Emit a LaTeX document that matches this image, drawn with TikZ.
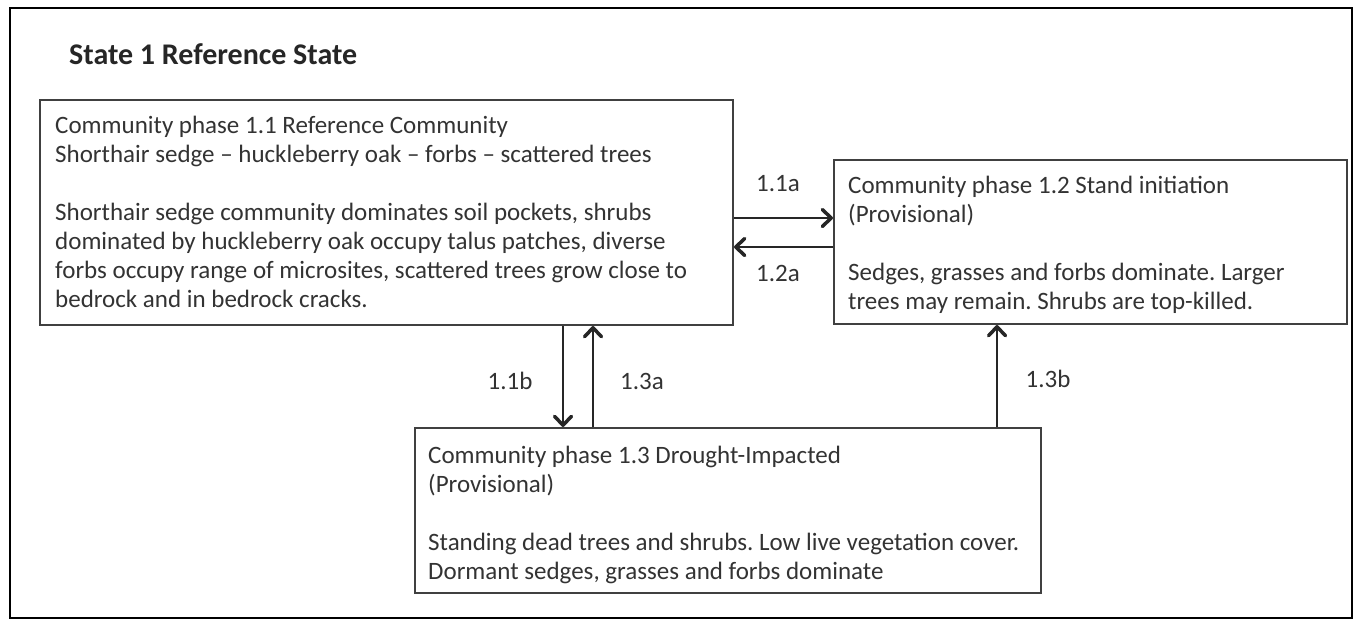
\documentclass[tikz,border=0pt]{standalone}
\usepackage{fontspec}
\setmainfont{Carlito}
\usetikzlibrary{arrows.meta}
\definecolor{txtc}{HTML}{333333}
\definecolor{boxc}{HTML}{404040}
\definecolor{arrc}{HTML}{262626}
\frenchspacing
\begin{document}
\begin{tikzpicture}[x=1pt,y=-1pt,
  box/.style={draw=boxc, line width=2pt, rectangle, inner sep=0pt, anchor=north west},
  txt/.style={text=txtc, inner sep=0pt, anchor=north west, align=left,
    font=\fontsize{25}{29}\selectfont},
  lbl/.style={text=txtc, inner sep=0pt, font=\fontsize{25}{29}\selectfont},
  arr/.style={draw=arrc, line width=2.5pt, -{Straight Barb[length=9pt,width=17pt,line width=3.5pt,round]}}]
\useasboundingbox (0,0) rectangle (1356,619);
\fill[white] (0,0) rectangle (1356,619);
\draw[black, line width=2.5pt] (10,8) rectangle (1352,618);
\node[text=black!85, inner sep=0pt, anchor=west, font=\fontsize{30}{34}\selectfont\bfseries] (title) at (69,54) {State 1 Reference State};
% boxes
\node[box, minimum width=693, minimum height=225] (p11) at (39,99) {};
\node[box, minimum width=513, minimum height=164] (p12) at (833,159) {};
\node[box, minimum width=626, minimum height=165] (p13) at (414,427) {};
% texts
\node[txt] (t11) at ([xshift=16pt,yshift=-17pt]p11.north west) {Community phase 1.1 Reference Community\\
Shorthair sedge -- huckleberry oak -- forbs -- scattered trees\\[29pt]
Shorthair sedge community dominates soil pockets, shrubs\\
dominated by huckleberry oak occupy talus patches, diverse\\
forbs occupy range of microsites, scattered trees grow close to\\
bedrock and in bedrock cracks.};
\node[txt] (t12) at ([xshift=15pt,yshift=-17pt]p12.north west) {Community phase 1.2 Stand initiation\\
(Provisional)\\[29pt]
Sedges, grasses and forbs dominate. Larger\\
trees may remain. Shrubs are top-killed.};
\node[txt] (t13) at ([xshift=14pt,yshift=-19pt]p13.north west) {Community phase 1.3 Drought-Impacted\\
(Provisional)\\[29pt]
Standing dead trees and shrubs. Low live vegetation cover.\\
Dormant sedges, grasses and forbs dominate};
% connectors
\coordinate (ya) at (0,218);
\coordinate (yb) at (0,247);
\coordinate (xa) at (563,0);
\coordinate (xb) at (593,0);
\coordinate (xc) at (997,0);
\draw[arr] (p11.east |- ya) -- (p12.west |- ya);
\draw[arr] (p12.west |- yb) -- (p11.east |- yb);
\draw[arr] (xa |- p11.south) -- (xa |- p13.north);
\draw[arr] (xb |- p13.north) -- (xb |- p11.south);
\draw[arr] (xc |- p13.north) -- (xc |- p12.south);
% labels
\node[lbl] (l11a) at (778,184) {1.1a};
\node[lbl] (l12a) at (778,273) {1.2a};
\node[lbl] (l11b) at (510,381) {1.1b};
\node[lbl] (l13a) at (642,381) {1.3a};
\node[lbl] (l13b) at (1048,379) {1.3b};
\end{tikzpicture}
\end{document}
